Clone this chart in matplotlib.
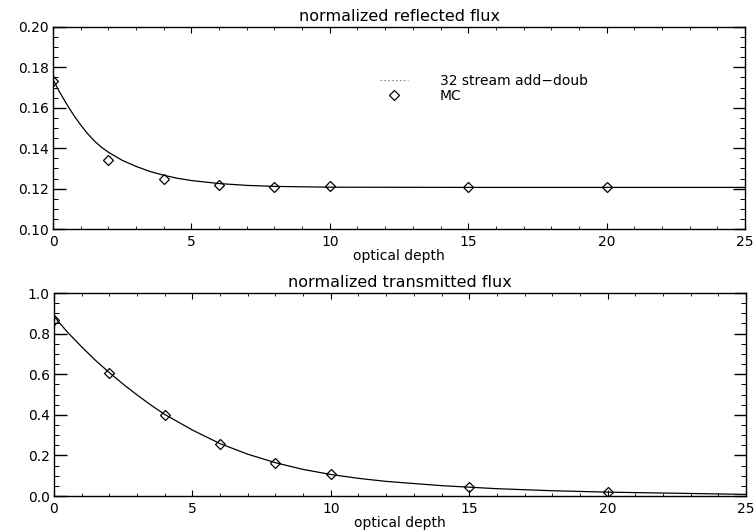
import matplotlib
matplotlib.use("Agg")
from matplotlib import pyplot as plt
from matplotlib.lines import Line2D
from matplotlib.ticker import MultipleLocator

# 32 stream adding-doubling results
tau_ad_refl = [0, 0.25, 0.5, 0.75, 1, 1.25, 1.5, 1.75, 2, 2.5, 3, 3.5, 4, 4.5,
               5, 6, 7, 8, 10, 15, 20, 25]
refl_ad = [0.174, 0.1675, 0.1617, 0.1563, 0.1515, 0.1472, 0.1435, 0.1405,
           0.1380, 0.1340, 0.1310, 0.1285, 0.1266, 0.1251, 0.1240, 0.1225,
           0.1216, 0.1211, 0.1207, 0.1206, 0.1206, 0.1206]

tau_ad_trans = [0, 0.5, 1, 1.5, 2, 2.5, 3, 3.5, 4, 5, 6, 7, 8, 9, 10, 11, 12,
                14, 16, 18, 20, 25]
trans_ad = [0.885, 0.805, 0.735, 0.668, 0.608, 0.551, 0.498, 0.448, 0.402,
            0.325, 0.258, 0.206, 0.164, 0.131, 0.106, 0.087, 0.072, 0.051,
            0.036, 0.026, 0.019, 0.008]

# Monte Carlo points
tau_mc = [0, 2, 4, 6, 8, 10, 15, 20]
refl_mc = [0.1735, 0.134, 0.125, 0.1217, 0.1208, 0.1212, 0.1208, 0.1208]
trans_mc = [0.868, 0.607, 0.399, 0.256, 0.164, 0.108, 0.043, 0.02]

FS = 10
plt.rcParams['font.family'] = ['DejaVu Sans']
plt.rcParams['font.size'] = FS


def setup_axes(ax, ymin, ymax, ymajor, yminor, yfmt, title):
    ax.set_xlim(0, 25)
    ax.set_ylim(ymin, ymax)
    ax.xaxis.set_major_locator(MultipleLocator(5))
    ax.xaxis.set_minor_locator(MultipleLocator(1))
    ax.yaxis.set_major_locator(MultipleLocator(ymajor))
    ax.yaxis.set_minor_locator(MultipleLocator(yminor))
    ax.yaxis.set_major_formatter(plt.FormatStrFormatter(yfmt))
    ax.tick_params(axis='x', which='major', direction='in', top=True, bottom=True,
                   length=4.5, width=0.8, pad=4)
    ax.tick_params(axis='x', which='minor', direction='in', top=True, bottom=True,
                   length=2, width=0.6)
    ax.tick_params(axis='y', which='major', direction='in', left=True, right=True,
                   length=9, width=1.0, pad=3)
    ax.tick_params(axis='y', which='minor', direction='in', left=True, right=True,
                   length=3.5, width=0.7)
    ax.tick_params(labelsize=FS)
    for sp in ax.spines.values():
        sp.set_linewidth(1.0)
    ax.set_title(title, fontsize=FS + 1.5, pad=4)
    ax.set_xlabel('optical depth', fontsize=FS, labelpad=0)


fig = plt.figure(figsize=(7.55, 5.31), dpi=100)
ax1 = fig.add_axes([0.0702, 0.5687, 0.9166, 0.3805])
ax2 = fig.add_axes([0.0715, 0.0659, 0.9166, 0.3823])

setup_axes(ax1, 0.10, 0.20, 0.02, 0.005, '%.2f', 'normalized reflected flux')
setup_axes(ax2, 0.0, 1.0, 0.2, 0.05, '%.1f', 'normalized transmitted flux')

ax1.plot(tau_ad_refl, refl_ad, color='black', lw=0.9)
ax1.plot(tau_mc, refl_mc, ls='none', marker='D', ms=5, mfc='none',
         mec='black', mew=0.9)

ax2.plot(tau_ad_trans, trans_ad, color='black', lw=0.9)
ax2.plot(tau_mc, trans_mc, ls='none', marker='D', ms=5, mfc='none',
         mec='black', mew=0.9)

handles = [Line2D([], [], color='0.55', lw=0.8, ls=(0, (1.5, 2))),
           Line2D([], [], ls='none', marker='D', ms=5, mfc='none',
                  mec='black', mew=0.9)]
ax1.legend(handles, ['32 stream add\u2212doub', 'MC'], loc='upper left',
           bbox_to_anchor=(0.455, 0.83), frameon=False, handlelength=2.0,
           handletextpad=2.3, labelspacing=0.05, fontsize=FS)

fig.savefig('out.png', dpi=100)
